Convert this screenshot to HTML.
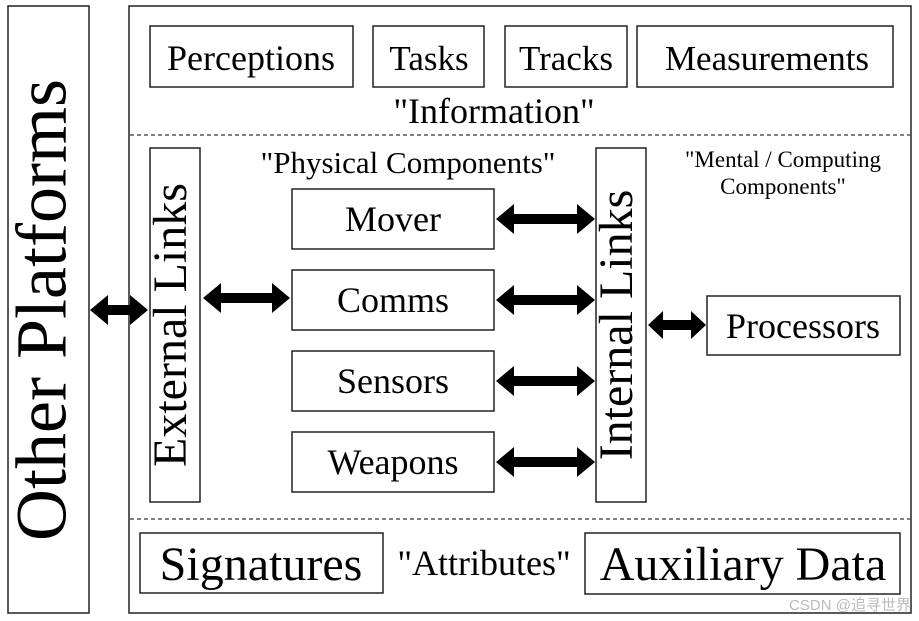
<!DOCTYPE html>
<html><head><meta charset="utf-8"><style>
html,body{margin:0;padding:0;background:#fff;}
svg{display:block;}
text{font-family:"Liberation Serif",serif;fill:#000;}
</style></head><body>
<svg width="919" height="621" viewBox="0 0 919 621" xmlns="http://www.w3.org/2000/svg">
<g fill="none" stroke="#222" stroke-width="1.5">
<rect x="8" y="6" width="81" height="607"/>
<rect x="129" y="6" width="782" height="607"/>
<rect x="150" y="26" width="203" height="61"/>
<rect x="373" y="26" width="111" height="61"/>
<rect x="505" y="26" width="122" height="61"/>
<rect x="637" y="26" width="256" height="61"/>
<rect x="150" y="148" width="50" height="354"/>
<rect x="596" y="148" width="50" height="354"/>
<rect x="292" y="189" width="202" height="60"/>
<rect x="292" y="270" width="202" height="60"/>
<rect x="292" y="351" width="202" height="60"/>
<rect x="292" y="432" width="202" height="60"/>
<rect x="707" y="296" width="193" height="59"/>
<rect x="140" y="533" width="243" height="60"/>
<rect x="585" y="533" width="315" height="61"/>
</g>
<g stroke="#333" stroke-width="1.2" stroke-dasharray="4,3">
<line x1="130" y1="135" x2="910" y2="135"/>
<line x1="130" y1="519" x2="910" y2="519"/>
</g>
<g fill="#000">
<polygon points="90,310 108,295 108,305 130,305 130,295 148,310 130,325 130,315 108,315 108,325"/>
<polygon points="203,298 221,283 221,293 272,293 272,283 290,298 272,313 272,303 221,303 221,313"/>
<polygon points="496,219 514,204 514,214 577,214 577,204 595,219 577,234 577,224 514,224 514,234"/>
<polygon points="496,300 514,285 514,295 577,295 577,285 595,300 577,315 577,305 514,305 514,315"/>
<polygon points="496,381 514,366 514,376 577,376 577,366 595,381 577,396 577,386 514,386 514,396"/>
<polygon points="496,462 514,447 514,457 577,457 577,447 595,462 577,477 577,467 514,467 514,477"/>
<polygon points="648,325 663,311 663,320 691,320 691,311 706,325 691,339 691,330 663,330 663,339"/>
</g>
<g text-anchor="middle">
<text x="49" y="310" font-size="72" transform="rotate(-90 49 310)" dominant-baseline="middle">Other Platforms</text>
<text x="251" y="70" font-size="36">Perceptions</text>
<text x="429" y="70" font-size="35">Tasks</text>
<text x="566" y="70" font-size="35">Tracks</text>
<text x="767" y="70" font-size="35">Measurements</text>
<text x="494" y="123" font-size="36">"Information"</text>
<text x="408" y="173" font-size="31">"Physical Components"</text>
<text x="783" y="167" font-size="23">"Mental / Computing</text>
<text x="783" y="194" font-size="23">Components"</text>
<text x="175" y="325" font-size="48" transform="rotate(-90 175 325)" dominant-baseline="middle">External Links</text>
<text x="621" y="325" font-size="48" transform="rotate(-90 621 325)" dominant-baseline="middle">Internal Links</text>
<text x="393" y="231" font-size="36">Mover</text>
<text x="393" y="312" font-size="36">Comms</text>
<text x="393" y="393" font-size="36">Sensors</text>
<text x="393" y="474" font-size="36">Weapons</text>
<text x="803" y="338" font-size="36">Processors</text>
<text x="261" y="580" font-size="48">Signatures</text>
<text x="484" y="575" font-size="36">"Attributes"</text>
<text x="743" y="580" font-size="48">Auxiliary Data</text>
<text x="850" y="610" font-size="15" style="fill:#bbb;font-family:'Liberation Sans','Noto Sans CJK SC',sans-serif">CSDN @追寻世界</text>
</g>
</svg>
</body></html>
